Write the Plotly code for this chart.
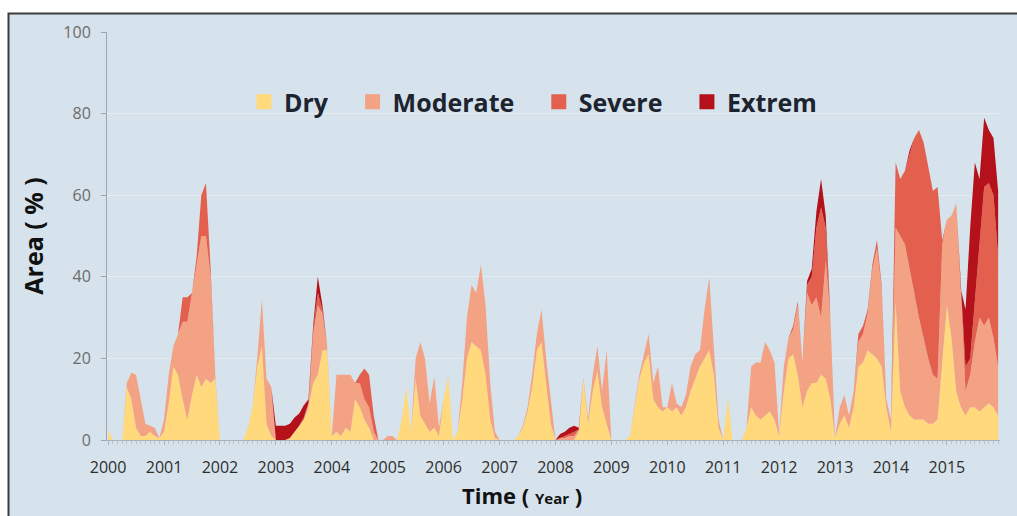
import plotly.graph_objects as go

# ---------------- data (monthly, Jan 2000 .. Dec 2015), % of area ----------------
years = list(range(2000, 2016))
year_labels = [str(y) for y in years]
month_pos = [y + k / 12 for y in years for k in range(12)]

series_names = ["Dry", "Moderate", "Severe", "Extrem"]

dry = [
    2.5, 0, 0, 0, 13, 10, 3, 1, 1, 2, 1, 0.5,          # 2000
    2, 9, 18, 16, 10, 5, 11, 16, 13, 15, 14, 15,        # 2001
    0, 0, 0, 0, 0, 0, 3, 8, 18, 23, 4, 1,               # 2002
    0, 0, 0, 0.5, 2, 3.5, 5, 8, 14, 16, 22, 22,         # 2003
    1, 2, 1, 3, 2, 10, 8, 5, 3, 0, 0, 0,                # 2004
    0, 0, 0, 5, 13, 2, 15, 6, 4, 2, 3, 1,               # 2005
    10, 15.5, 0, 2, 10, 20, 24, 23, 22, 16, 5, 0.5,     # 2006
    0, 0, 0, 0, 1, 3, 7, 13, 22, 24, 14, 4,             # 2007
    0, 0, 0, 0, 0, 2, 15, 4, 12, 17, 8, 4,              # 2008
    0, 0, 0, 0, 1, 8, 15, 19, 21, 10, 8, 7,             # 2009
    8, 7, 8, 6, 8, 12, 15, 18, 20, 22, 16, 3,           # 2010
    0, 10.5, 0, 0, 0, 3, 8, 6, 5, 6, 7, 5,              # 2011
    1, 12, 20, 21, 16, 8, 12, 14, 14, 16, 15, 10,       # 2012
    0.5, 4, 6, 3, 8, 18, 19, 22, 21, 20, 18, 8,         # 2013
    2, 34, 12, 8, 6, 5, 5, 5, 4, 4, 5, 20,              # 2014
    33, 25, 12, 8, 6, 8, 8, 7, 8, 9, 8, 6,              # 2015
]

moderate = [
    0, 0, 0, 0, 1, 6.5, 13, 9, 3, 1.5, 2, 0,            # 2000
    3, 7, 5, 10, 19, 24, 25, 28, 37, 35, 26, 1,         # 2001
    0, 0, 0, 0, 0, 0, 0, 0, 2, 11.5, 11, 12,            # 2002
    0, 0, 0, 0, 0, 0, 0, 1, 12, 17, 9, 1,               # 2003
    0, 14, 15, 13, 14, 4, 6, 5, 5, 2, 0, 0,             # 2004
    1, 1, 0, 0, 0, 0, 5, 18, 16, 7, 12.5, 2,            # 2005
    0, 0, 0, 0, 4, 10, 14, 13, 21, 17, 9, 1.5,          # 2006
    0, 0, 0, 0, 0, 0.5, 1, 3, 4, 8, 6, 6,               # 2007
    0, 0.5, 0.5, 1, 1, 0.5, 0.5, 1, 4, 6, 4, 18,        # 2008
    0, 0, 0, 0, 0, 0, 1, 2, 5, 4, 10, 1,                # 2009
    0, 7, 1, 2, 3, 6, 6, 4, 12, 17, 6, 2,               # 2010
    0, 0, 0, 0, 0, 0, 10, 13, 14, 18, 15, 14,           # 2011
    0.5, 6, 5, 6, 17, 11, 24, 19, 21, 14, 29, 20,       # 2012
    0, 4, 5, 3, 4, 6, 7, 9, 21, 27, 19, 2,              # 2013
    3, 18, 38, 40, 36, 31, 25, 20, 16, 12, 10, 28,      # 2014
    21, 30, 46, 29, 6, 8, 16, 23, 20, 21, 17, 12,       # 2015
]

severe = [
    0, 0, 0, 0, 0, 0, 0, 0, 0, 0, 0, 0,                 # 2000
    0, 0, 0, 0, 6, 6, 0, 1, 10, 13, 2, 0,               # 2001
    0, 0, 0, 0, 0, 0, 0, 0, 0, 0, 0, 0,                 # 2002
    0, 0, 0, 0, 0, 0, 0.5, 0, 1, 3, 1, 0,               # 2003
    0, 0, 0, 0, 0, 0, 2, 7.5, 8, 4, 0, 0,               # 2004
    0, 0, 0, 0, 0, 0, 0, 0, 0, 0, 0, 0,                 # 2005
    0, 0, 0, 0, 0, 0, 0, 0, 0, 0, 0, 0,                 # 2006
    0, 0, 0, 0, 0, 0, 0, 0, 0, 0, 0, 0,                 # 2007
    0, 0, 0.5, 0.5, 1, 0, 0, 0, 0, 0, 0, 0,             # 2008
    0, 0, 0, 0, 0, 0, 0, 0, 0, 0, 0, 0,                 # 2009
    0, 0, 0, 0, 0, 0, 0, 0, 0, 0.5, 0, 0,               # 2010
    0, 0, 0, 0, 0, 0, 0, 0, 0, 0, 0, 0,                 # 2011
    0, 0, 0, 1, 1, 0, 2, 7, 17, 27, 8, 0,               # 2012
    0, 0, 0, 0, 0, 2, 2, 1, 1, 2, 1, 0,                 # 2013
    0, 16, 14, 18, 28, 38, 46, 48, 47, 45, 47, 1,       # 2014
    0, 0, 0, 0, 6, 4, 10, 18, 34, 33, 35, 27,           # 2015
]

extrem = [
    0, 0, 0, 0, 0, 0, 0, 0, 0, 0, 0, 0,                 # 2000
    0, 0, 0, 0, 0, 0, 0, 0, 0, 0, 0, 0,                 # 2001
    0, 0, 0, 0, 0, 0, 0, 0, 0, 0, 0, 0,                 # 2002
    3.5, 3.5, 3.5, 3.5, 3.5, 3, 3, 1, 1, 4, 1, 0,       # 2003
    0, 0, 0, 0, 0, 0, 0, 0, 0, 0, 0, 0,                 # 2004
    0, 0, 0, 0, 0, 0, 0, 0, 0, 0, 0, 0,                 # 2005
    0, 0, 0, 0, 0, 0, 0, 0, 0, 0, 0, 0,                 # 2006
    0, 0, 0, 0, 0, 0, 0, 0, 0, 0, 0, 0,                 # 2007
    0, 1, 1, 1.5, 1.5, 0.5, 0, 0, 0, 0, 0, 0,           # 2008
    0, 0, 0, 0, 0, 0, 0, 0, 0, 0, 0, 0,                 # 2009
    0, 0, 0, 0, 0, 0, 0, 0, 0, 0, 0, 0,                 # 2010
    0, 0, 0, 0, 0, 0, 0, 0, 0, 0, 0, 0,                 # 2011
    0, 0, 0, 0, 0, 0, 1, 2, 4, 7, 3, 0,                 # 2012
    0, 0, 0, 0, 0, 0, 0, 0, 0, 0, 0, 0,                 # 2013
    0, 0, 0, 0, 1, 0, 0, 0, 0, 0, 0, 0,                 # 2014
    0, 0, 0, 0, 14, 32, 34, 16, 17, 13, 14, 16,         # 2015
]

y_ticks = [0, 20, 40, 60, 80, 100]

# ---------------- styling ----------------
colors = ["#FFD97C", "#F3A283", "#E4604E", "#B5111A"]
bg = "#D6E3EC"
FONT = "Open Sans"

fig = go.Figure()

for name, vals, col in zip(series_names, [dry, moderate, severe, extrem], colors):
    fig.add_trace(go.Scatter(
        x=month_pos, y=vals, name=name, stackgroup="drought",
        mode="lines", line=dict(width=0, color=col), fillcolor=col,
        showlegend=False, hoverinfo="x+y+name",
    ))

# legend entries as square swatches
for name, col in zip(series_names, colors):
    fig.add_trace(go.Scatter(
        x=[None], y=[None], mode="markers", name="<b>" + name + "</b>\u00a0\u00a0\u00a0",
        marker=dict(symbol="square", size=15, color=col), showlegend=True,
    ))

L, R, T, B = 107, 17, 32, 76
W, H = 1017, 516
pw, ph = W - L - R, H - T - B

fig.update_layout(
    width=W, height=H,
    margin=dict(l=L, r=R, t=T, b=B, autoexpand=False),
    paper_bgcolor="white",
    plot_bgcolor="rgba(0,0,0,0)",
    font=dict(family=FONT, color="#333333"),
    showlegend=True,
    legend=dict(
        orientation="h", traceorder="normal",
        x=(244 - L) / pw, xanchor="left",
        y=(440 - 102) / ph, yanchor="middle",
        bgcolor="rgba(0,0,0,0)", borderwidth=0,
        font=dict(family=FONT, size=25, color="#1e2330"),
        itemclick=False, itemdoubleclick=False,
    ),
    xaxis=dict(
        range=[1999.98, 2015.95],
        tickmode="array", tickvals=years, ticktext=year_labels,
        ticks="outside", ticklen=4, tickcolor="#aab3ba",
        minor=dict(dtick=1 / 12, tick0=2000, ticks="outside", ticklen=3,
                   tickcolor="#b9c2c8", showgrid=False),
        showline=True, linecolor="#aab3ba", linewidth=1,
        showgrid=False, zeroline=False,
        tickfont=dict(family=FONT, size=16, color="#2e2e2e"),
        ticklabelstandoff=9,
    ),
    yaxis=dict(
        range=[0, 100], tickmode="array", tickvals=y_ticks,
        ticks="outside", ticklen=5, tickcolor="#9ea7ae",
        showline=True, linecolor="#9ea7ae", linewidth=1,
        showgrid=True, gridcolor="#e4ecf1", gridwidth=1, zeroline=False,
        tickfont=dict(family=FONT, size=16, color="#6b6b6b"),
        ticklabelstandoff=7,
        title=dict(text="<b>Area ( % )</b>", standoff=12,
                   font=dict(family=FONT, size=25, color="#111111")),
    ),
    shapes=[dict(
        type="rect", xref="paper", yref="paper", layer="below",
        x0=(8.5 - L) / pw, x1=1.5, y0=-1.0, y1=(440 - 13.5) / ph,
        line=dict(color="#3c3c3c", width=2), fillcolor=bg,
    )],
    annotations=[dict(
        xref="paper", yref="paper", x=(522 - L) / pw, y=(440 - 495) / ph,
        xanchor="center", yanchor="middle", showarrow=False,
        text="<b>Time ( <span style='font-size:15px'>Year</span> )</b>",
        font=dict(family=FONT, size=22, color="#111111"),
    )],
)

fig.write_html(
    "out.html",
    config={"displayModeBar": False},
    post_script="document.body.style.margin='0px';",
)
